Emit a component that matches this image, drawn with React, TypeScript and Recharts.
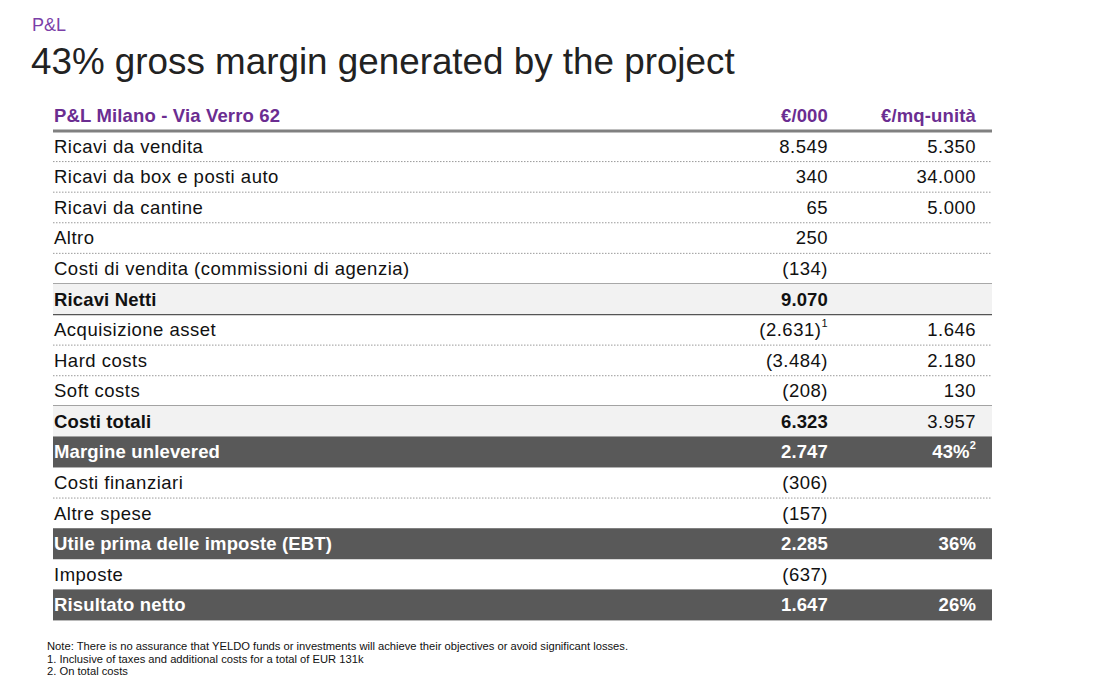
import React from 'react';
import { BarChart, Bar, XAxis, YAxis } from 'recharts';

const columnHeaders = ['P&L Milano - Via Verro 62', '€/000', '€/mq-unità'];

const rowLabels = [
  'Ricavi da vendita',
  'Ricavi da box e posti auto',
  'Ricavi da cantine',
  'Altro',
  'Costi di vendita (commissioni di agenzia)',
  'Ricavi Netti',
  'Acquisizione asset',
  'Hard costs',
  'Soft costs',
  'Costi totali',
  'Margine unlevered',
  'Costi finanziari',
  'Altre spese',
  'Utile prima delle imposte (EBT)',
  'Imposte',
  'Risultato netto',
];

// €/000 (negatives shown in brackets)
const eurValues = [8549, 340, 65, 250, -134, 9070, -2631, -3484, -208, 6323, 2747, -306, -157, 2285, -637, 1647];
const eurNotes = ['', '', '', '', '', '', '1', '', '', '', '', '', '', '', '', ''];

// €/mq-unità
const unitValues = [5350, 34000, 5000, null, null, null, 1646, 2180, 130, 3957, null, null, null, null, null, null];
const marginPct = [null, null, null, null, null, null, null, null, null, null, 43, null, null, 36, null, 26];
const marginNotes = ['', '', '', '', '', '', '', '', '', '', '2', '', '', '', '', ''];

const rowKinds = ['item', 'item', 'item', 'item', 'item', 'subtotal', 'item', 'item', 'item', 'subtotal', 'total', 'item', 'item', 'total', 'item', 'total'];

const footNotes = [
  'Note: There is no assurance that YELDO funds or investments will achieve their objectives or avoid significant losses.',
  '1. Inclusive of taxes and additional costs for a total of EUR 131k',
  '2. On total costs',
];

const FONT = '"Liberation Sans", Arial, sans-serif';
const PURPLE = '#6b2d91';
const DARK = '#595959';
const LIGHT = '#f2f2f2';
const FS = 18.5;

const fmt = (n: number) => {
  const s = String(Math.abs(n)).replace(/\B(?=(\d{3})+(?!\d))/g, '.');
  return n < 0 ? `(${s})` : s;
};

const tableData = [
  { label: columnHeaders[0], kind: 'header', eur: columnHeaders[1], unit: columnHeaders[2], eurNote: '', unitNote: '', span: 1, next: 'item' },
  ...rowLabels.map((label, i) => ({
    label,
    kind: rowKinds[i],
    eur: fmt(eurValues[i]),
    eurNote: eurNotes[i],
    unit: marginPct[i] != null ? `${marginPct[i]}%` : unitValues[i] != null ? fmt(unitValues[i] as number) : '',
    unitNote: marginNotes[i],
    span: 1,
    next: rowKinds[i + 1] ?? 'end',
  })),
];

const RowShape = (props: any) => {
  const { x, y, width, height } = props;
  const row = props.payload ?? props;
  const cy = y + height / 2;
  const eurX = x + 775;
  const unitX = x + 923;
  const isHeader = row.kind === 'header';
  const isTotal = row.kind === 'total';
  const isSub = row.kind === 'subtotal';
  const color = isHeader ? PURPLE : isTotal ? '#ffffff' : '#111111';
  const bold = isHeader || isTotal || isSub;
  const unitBold = isHeader || isTotal;

  let bottom: React.ReactNode = null;
  if (isHeader) {
    bottom = <line x1={x} x2={x + width} y1={y + height} y2={y + height} stroke="#808080" strokeWidth={3} />;
  } else if (row.next === 'subtotal') {
    bottom = <line x1={x} x2={x + width} y1={y + height} y2={y + height} stroke="#333333" strokeWidth={1.5} />;
  } else if (isSub) {
    bottom = row.next === 'item'
      ? <line x1={x} x2={x + width} y1={y + height} y2={y + height} stroke="#555555" strokeWidth={1.2} />
      : null;
  } else if (row.kind === 'item' && row.next === 'item') {
    bottom = <line x1={x} x2={x + width} y1={y + height} y2={y + height} stroke="#9a9a9a" strokeWidth={1} strokeDasharray="1.5 1.5" />;
  }

  const fill = isTotal ? DARK : isSub ? LIGHT : 'none';
  const base = { dominantBaseline: 'central', fontFamily: FONT, fontSize: FS, fill: color } as any;

  return (
    <g>
      {fill !== 'none' && <rect x={x} y={y} width={width} height={height} fill={fill} />}
      <text x={x + 1} y={cy} {...base} fontWeight={bold ? 700 : 400} letterSpacing={bold ? 0.15 : 0.5}>
        {row.label}
      </text>
      <text x={eurX} y={cy} {...base} textAnchor="end" fontWeight={bold ? 700 : 400} letterSpacing={bold ? 0.15 : 0.5}>
        {row.eur}
        {row.eurNote && <tspan fontSize={11} dy={-7}>{row.eurNote}</tspan>}
      </text>
      <text x={unitX} y={cy} {...base} textAnchor="end" fontWeight={unitBold ? 700 : 400} letterSpacing={unitBold ? 0.15 : 0.5}>
        {row.unit}
        {row.unitNote && <tspan fontSize={11} dy={-7}>{row.unitNote}</tspan>}
      </text>
      {bottom}
    </g>
  );
};

export default function App() {
  return (
    <div style={{ position: 'absolute', left: 0, top: 0, width: 1116, height: 687, background: '#fff', fontFamily: FONT }}>
      <div style={{ position: 'absolute', left: 32, top: 15, fontSize: 18, color: '#7b3fa8' }}>P&amp;L</div>
      <div style={{ position: 'absolute', left: 31, top: 41, fontSize: 36.8, color: '#222222', whiteSpace: 'nowrap' }}>
        43% gross margin generated by the project
      </div>
      <div style={{ position: 'absolute', left: 0, top: 0 }}>
        <BarChart
          width={1116}
          height={687}
          data={tableData}
          layout="vertical"
          barCategoryGap={0}
          margin={{ top: 100, right: 124, bottom: 67, left: 53 }}
        >
          <XAxis type="number" domain={[0, 1]} hide />
          <YAxis type="category" dataKey="label" hide />
          <Bar dataKey="span" isAnimationActive={false} shape={RowShape} />
        </BarChart>
      </div>
      <div style={{ position: 'absolute', left: 47, top: 640, fontSize: 11.2, lineHeight: '12.5px', color: '#111', whiteSpace: 'nowrap' }}>
        {footNotes.map((t) => (
          <div key={t}>{t}</div>
        ))}
      </div>
    </div>
  );
}
